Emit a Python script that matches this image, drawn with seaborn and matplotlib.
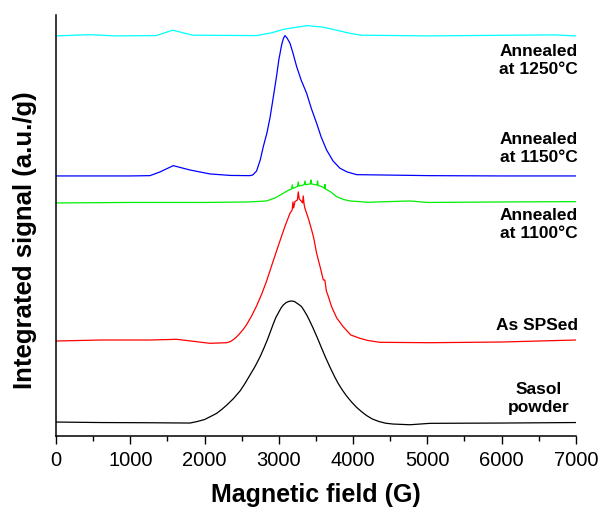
import numpy as np
import pandas as pd
import matplotlib
matplotlib.use("Agg")
import matplotlib.pyplot as plt
import seaborn as sns
from matplotlib.ticker import MultipleLocator

# curves (field in G, signal in arbitrary offset units)
field_sasol = [0, 600, 1265, 1804, 1900, 2000, 2080, 2163, 2230, 2300, 2390, 2477, 2540, 2600,
               2680, 2746, 2800, 2850, 2890, 2925, 2960, 3000, 3030, 3060, 3100, 3140, 3172,
               3210, 3240, 3270, 3307, 3340, 3380, 3420, 3464, 3520, 3570, 3630, 3688, 3750,
               3800, 3860, 3913, 3980, 4050, 4120, 4182, 4260, 4350, 4440, 4540, 4765, 5035,
               6000, 7000]
sig_sasol = [14, 13.5, 13.3, 13, 14.5, 16.5, 19.5, 22.7, 26.5, 31, 37.5, 45, 52, 59.5,
             69.5, 79, 88, 97, 105, 112, 118.5, 124, 128, 131, 133.5, 134.7, 135,
             134.5, 133, 131.5, 129.3, 125.5, 120.5, 114.5, 107.5, 98, 89, 78.5, 69, 59.5,
             52.5, 45.5, 40, 34, 28.5, 24, 20.5, 17, 14.5, 12.8, 12, 11.3, 12.7,
             13, 13.5]

field_sps = [0, 600, 1265, 1624, 2073, 2297, 2350, 2400, 2450, 2520, 2567, 2630, 2700, 2770,
             2836, 2920, 3015, 3080, 3150, 3180, 3190, 3200, 3217, 3250, 3262, 3275, 3300,
             3320, 3329, 3340, 3350, 3400, 3442, 3470, 3509, 3560, 3599, 3620, 3640, 3660,
             3711, 3780, 3867, 3970, 4092, 4200, 4361, 5035, 6000, 7000]
sig_sps = [95, 96, 96, 96.7, 92.7, 93.3, 94.5, 97, 100.5, 106.5, 111.5, 119.5, 130, 142,
           155, 174, 195, 209, 222.7, 226, 234, 228, 234.3, 236, 244, 237, 235,
           233, 240, 232, 228, 217, 206, 198, 182.7, 168, 156, 156, 145, 141,
           129.3, 118, 109.3, 101, 97.7, 95.5, 93.7, 93.3, 94, 96]

field_1100 = [0, 1000, 2000, 2600, 2836, 2950, 3060, 3150, 3172, 3181, 3190, 3240, 3252,
              3262, 3272, 3330, 3342, 3352, 3362, 3419, 3425, 3433, 3441, 3510, 3514, 3522,
              3530, 3599, 3613, 3621, 3629, 3700, 3778, 3870, 3958, 4200, 4765, 5000, 6000,
              7000]
sig_1100 = [233, 233.5, 233.5, 234, 235, 238, 242.7, 246.5, 247, 251, 247.5, 249.3, 249.5,
            254, 249.8, 251, 251.2, 255, 251.2, 252, 252, 256, 252, 251, 250.8, 255,
            250.5, 248.7, 247.5, 251.5, 247, 244, 239.3, 236.5, 235, 233.7, 235, 233.5, 234,
            234.3]

field_1150 = [0, 500, 1000, 1265, 1400, 1579, 1800, 2073, 2350, 2611, 2650, 2701, 2750,
              2791, 2840, 2881, 2920, 2970, 3000, 3038, 3060, 3082, 3110, 3150, 3190, 3240,
              3300, 3374, 3440, 3509, 3570, 3643, 3730, 3823, 3920, 4047, 5035, 6000, 7000]
sig_1150 = [260, 260, 260, 260.3, 264, 270.3, 266, 262, 260.5, 260.3, 261, 265, 276,
            289.3, 303, 318, 336, 360, 376, 391, 397, 400.3, 398, 392.7, 383, 369.3,
            356, 342.7, 327, 312.7, 299, 286, 275, 267.7, 264, 261.3, 260.3, 260, 260]

field_1250 = [0, 445, 800, 1350, 1570, 1840, 2700, 2900, 3070, 3380, 3600, 3950, 4100,
              5000, 6700, 7000]
sig_1250 = [400, 401.2, 400, 400.3, 405.7, 400.7, 400.3, 403, 406.7, 410.3, 408.7, 402.7,
            400.7, 400, 401, 400]

series = [
    (field_sasol, sig_sasol, "black"),
    (field_sps, sig_sps, "#ff0000"),
    (field_1100, sig_1100, "#00ee00"),
    (field_1150, sig_1150, "#0000ff"),
    (field_1250, sig_1250, "#00ffff"),
]

labels = ["Annealed\nat 1250°C", "Annealed\nat 1150°C", "Annealed\nat 1100°C",
          "As SPSed", "Sasol\npowder"]
label_y = [375, 287, 211, 111, 38]

sns.set_style("ticks")
plt.rcParams["font.family"] = ["Liberation Sans", "DejaVu Sans"]
plt.rcParams["text.color"] = "black"
plt.rcParams["axes.labelcolor"] = "black"

fig = plt.figure(figsize=(6.01, 5.13), dpi=100)
ax = fig.add_axes([0.0932, 0.150, 0.865, 0.821])

for fx, sy, col in series:
    sns.lineplot(x=fx, y=sy, color=col, lw=0.9, ax=ax, estimator=None)

for txt, yy in zip(labels, label_y):
    if txt.startswith("Sasol"):
        ax.text(6502, yy, txt, ha="center", va="center", fontsize=12.5,
                fontweight="bold", linespacing=1.25, color="black")
    else:
        ax.text(7025, yy, txt, ha="right", va="center", fontsize=12.5,
                fontweight="bold", linespacing=1.25, multialignment="right",
                color="black")

ax.set_xlim(0, 7000)
ax.set_ylim(0, 421)
ax.set_yticks([])
ax.xaxis.set_major_locator(MultipleLocator(1000))
ax.xaxis.set_minor_locator(MultipleLocator(500))
ax.tick_params(axis="x", which="major", length=6, width=1, labelsize=14.5, pad=5,
               direction="out", colors="black")
ax.tick_params(axis="x", which="minor", length=3.5, width=1, direction="out",
               colors="black")
sns.despine(ax=ax)
for s in ["left", "bottom"]:
    ax.spines[s].set_linewidth(1.1)
    ax.spines[s].set_color("black")

ax.set_xlabel("Magnetic field (G)", fontsize=18, fontweight="bold")
ax.set_ylabel("Integrated signal (a.u./g)", fontsize=18.5, fontweight="bold")
ax.xaxis.set_label_coords(0.5, -0.112)
ax.xaxis.label.set_va("top")
ax.yaxis.set_label_coords(-0.0365, 0.464)

fig.savefig("out.png", dpi=100)
